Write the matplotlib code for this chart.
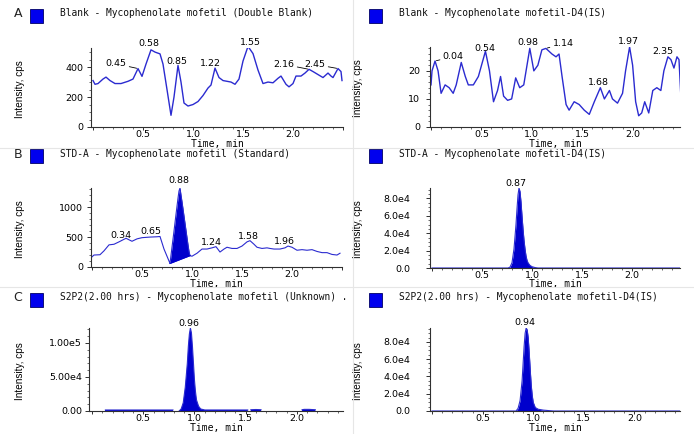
import matplotlib
matplotlib.use("Agg")
import matplotlib.pyplot as plt
import numpy as np
from matplotlib.ticker import MultipleLocator, FuncFormatter
from matplotlib.lines import Line2D
from matplotlib.patches import Rectangle

# ---------------- data ----------------
# A: blank, analyte channel
a1_t = [0.00, 0.02, 0.05, 0.10, 0.13, 0.17, 0.22, 0.28, 0.35, 0.40, 0.45, 0.49, 0.53, 0.58,
        0.62, 0.67, 0.70, 0.74, 0.78, 0.81, 0.85, 0.88, 0.91, 0.95, 1.00, 1.05, 1.10, 1.15,
        1.18, 1.22, 1.26, 1.30, 1.38, 1.42, 1.46, 1.50, 1.55, 1.60, 1.65, 1.70, 1.75, 1.80,
        1.85, 1.88, 1.93, 1.96, 2.00, 2.03, 2.08, 2.12, 2.16, 2.20, 2.25, 2.30, 2.35, 2.38,
        2.40, 2.45, 2.48, 2.49]
a1_y = [310, 285, 290, 320, 333, 310, 290, 290, 305, 320, 390, 338, 420, 515,
        500, 488, 420, 250, 78, 200, 411, 300, 160, 140, 150, 170, 210, 260,
        280, 393, 330, 310, 300, 285, 320, 440, 538, 490, 380, 290, 300, 295,
        325, 340, 285, 268, 290, 340, 340, 360, 385, 370, 350, 330, 360, 340,
        330, 390, 370, 310]

# A: blank, internal standard channel
a2_t = [0.00, 0.01, 0.04, 0.07, 0.10, 0.14, 0.18, 0.22, 0.25, 0.30, 0.34, 0.37, 0.42, 0.47,
        0.54, 0.58, 0.62, 0.66, 0.69, 0.72, 0.76, 0.80, 0.84, 0.88, 0.92, 0.98, 1.02, 1.06,
        1.10, 1.14, 1.20, 1.24, 1.27, 1.30, 1.34, 1.37, 1.42, 1.47, 1.52, 1.57, 1.62, 1.68,
        1.72, 1.77, 1.80, 1.85, 1.90, 1.93, 1.97, 2.00, 2.03, 2.06, 2.09, 2.12, 2.16, 2.20,
        2.24, 2.28, 2.31, 2.35, 2.38, 2.41, 2.44, 2.46, 2.48]
a2_y = [15, 20, 23.5, 20, 12, 15, 14, 12, 15, 23, 18, 15, 15, 18,
        27, 20, 9, 13, 18, 11, 9.5, 10, 17.5, 14, 15, 28, 20, 22,
        27.5, 28, 26, 25, 26, 18, 8, 6, 9, 8, 6, 4.5, 9, 14,
        10, 13, 10, 8.5, 12, 20, 28.5, 22, 9, 4, 5, 9, 5, 13,
        14, 13, 20, 25, 24, 21, 25, 24, 10]

# B: standard, analyte channel
b1_t = [0.00, 0.02, 0.08, 0.12, 0.17, 0.22, 0.27, 0.34, 0.40, 0.45, 0.50, 0.58, 0.65, 0.68,
        0.72, 0.78, 0.80, 0.82, 0.84, 0.86, 0.87, 0.88, 0.89, 0.90, 0.91, 0.92, 0.93, 0.94,
        0.95, 0.96, 0.97, 0.98, 1.00, 1.05, 1.10, 1.15, 1.20, 1.24, 1.28, 1.32, 1.35, 1.40,
        1.45, 1.50, 1.55, 1.58, 1.62, 1.65, 1.70, 1.75, 1.78, 1.82, 1.88, 1.93, 1.96, 2.00,
        2.05, 2.10, 2.15, 2.20, 2.25, 2.30, 2.35, 2.40, 2.45, 2.48]
b1_y = [170, 200, 205, 270, 370, 380, 420, 480, 430, 470, 490, 500, 505, 510,
        300, 60, 330, 600, 880, 1150, 1270, 1320, 1200, 1090, 970, 850, 730, 610,
        490, 370, 260, 190, 180, 230, 300, 300, 320, 340, 250, 300, 330, 310,
        310, 350, 420, 440, 380, 330, 310, 320, 310, 300, 300, 320, 350, 330,
        280, 290, 280, 290, 260, 240, 240, 210, 200, 230]
b1_peak = (0.78, 0.98)   # integration window of the filled peak

# B: standard, internal standard channel
b2_t = [0.00, 0.76, 0.78, 0.80, 0.82, 0.84, 0.85, 0.86, 0.87, 0.88, 0.89, 0.90, 0.91, 0.92,
        0.93, 0.94, 0.95, 0.96, 0.98, 1.00, 1.03, 1.06, 2.48]
b2_y = [0, 0, 1000, 6000, 22000, 50000, 68000, 84000, 92000, 88000, 76000, 60000, 45000, 32000,
        22000, 14000, 9000, 6000, 3000, 1500, 500, 0, 0]

# C: sample, analyte channel (nan = no signal drawn)
c1_t = [0.13, 0.40, 0.79, 0.80, 0.85, 0.87, 0.89, 0.91, 0.93, 0.94, 0.95, 0.96, 0.97, 0.98,
        0.99, 1.00, 1.01, 1.02, 1.04, 1.06, 1.10, 1.14, 1.30, 1.52, 1.53, 1.55, 1.60, 1.65,
        1.66, 2.05, 2.07, 2.12, 2.18, 2.19]
c1_y = [1500, 1500, 1500, np.nan, 0, 3000, 12000, 35000, 70000, 95000, 113000, 122000, 115000, 95000,
        70000, 45000, 28000, 16000, 7000, 3000, 1500, 1500, 1500, 1500, np.nan, 1800, 2200, 1800,
        np.nan, 1800, 2400, 2400, 1800, np.nan]

# C: sample, internal standard channel
c2_t = [0.00, 0.83, 0.85, 0.87, 0.89, 0.90, 0.91, 0.92, 0.93, 0.94, 0.95, 0.96, 0.97, 0.98,
        0.99, 1.00, 1.02, 1.05, 1.10, 1.15, 1.20, 2.48]
c2_y = [0, 0, 3000, 12000, 35000, 55000, 75000, 90000, 96000, 94000, 85000, 68000, 48000, 30000,
        18000, 10000, 4000, 2000, 1000, 500, 0, 0]

titles = ["Blank - Mycophenolate mofetil (Double Blank)",
          "Blank - Mycophenolate mofetil-D4(IS)",
          "STD-A - Mycophenolate mofetil (Standard)",
          "STD-A - Mycophenolate mofetil-D4(IS)",
          "S2P2(2.00 hrs) - Mycophenolate mofetil (Unknown) .",
          "S2P2(2.00 hrs) - Mycophenolate mofetil-D4(IS)"]
row_letters = ["A", "B", "C"]

# peak labels: (text, peak time, label x, label y, leader line?)
labels_a1 = [("0.45", 0.45, 0.23, 422, True), ("0.58", 0.58, 0.56, 555, False),
             ("0.85", 0.85, 0.84, 440, False), ("1.22", 1.22, 1.17, 427, False),
             ("1.55", 1.55, 1.57, 567, False), ("2.16", 2.16, 1.91, 418, True),
             ("2.45", 2.45, 2.22, 418, True)]
labels_a2 = [("0.04", 0.04, 0.22, 25.1, True), ("0.54", 0.54, 0.53, 28.1, False),
             ("0.98", 0.98, 0.96, 30.0, False), ("1.14", 1.14, 1.31, 29.7, True),
             ("1.68", 1.68, 1.66, 15.8, False), ("1.97", 1.97, 1.96, 30.5, False),
             ("2.35", 2.35, 2.30, 27.0, False)]
labels_b1 = [("0.34", 0.34, 0.29, 523, False), ("0.65", 0.65, 0.59, 597, False),
             ("0.88", 0.88, 0.87, 1437, False), ("1.24", 1.24, 1.19, 415, False),
             ("1.58", 1.58, 1.56, 511, False), ("1.96", 1.96, 1.92, 426, False)]
labels_b2 = [("0.87", 0.87, 0.84, 97100, False)]
labels_c1 = [("0.96", 0.96, 0.95, 128300, False)]
labels_c2 = [("0.94", 0.94, 0.92, 102000, False)]

# ---------------- style ----------------
W, H = 694, 434
LINE = "#2b2bd0"
FILL = "#0000cc"
SPINE = "#303030"
TICKFS = 6.8
MONO = ["DejaVu Sans Mono"]
YLAB_FONT = ["Liberation Sans", "DejaVu Sans"]

fig = plt.figure(figsize=(W / 100, H / 100), dpi=100)
fig.patch.set_facecolor("white")


def px_axes(x0, y0, x1, y1):
    return fig.add_axes([x0 / W, 1 - y1 / H, (x1 - x0) / W, (y1 - y0) / H])


def sci_fmt(dec):
    def f(v, pos):
        if abs(v) < 1e-9:
            return f"{0:.{dec}f}"
        e = int(np.floor(np.log10(abs(v))))
        return f"{v / 10 ** e:.{dec}f}e{e}"
    return FuncFormatter(f)


def style_axes(ax, ymajor, yminor, yfmt, ytop, xlim=(-0.02, 2.48), ypad=2.5):
    for s in ["top", "right"]:
        ax.spines[s].set_visible(False)
    for s in ["left", "bottom"]:
        ax.spines[s].set_color(SPINE)
        ax.spines[s].set_linewidth(0.8)
    ax.set_xlim(*xlim)
    ax.set_ylim(0, ytop)
    ax.xaxis.set_major_locator(MultipleLocator(0.5))
    ax.xaxis.set_minor_locator(MultipleLocator(0.1))
    ax.xaxis.set_major_formatter(FuncFormatter(lambda v, p: f"{v:.1f}" if 0.01 < v < 2.4 else ""))
    ax.yaxis.set_major_locator(MultipleLocator(ymajor))
    ax.yaxis.set_minor_locator(MultipleLocator(yminor))
    ax.yaxis.set_major_formatter(yfmt)
    ax.tick_params(axis="x", which="major", length=2.2, width=0.7, color=SPINE,
                   labelsize=TICKFS, pad=0.2)
    ax.tick_params(axis="y", which="major", length=3, width=0.7, color=SPINE,
                   labelsize=TICKFS, pad=ypad)
    ax.tick_params(which="minor", length=1.6, width=0.5, color=SPINE)
    ax.set_xlabel("Time, min", fontsize=7, family=MONO, labelpad=0)
    ax.xaxis.label.set_va("center")
    ax.set_ylabel("Intensity, cps", fontsize=7.2, family=YLAB_FONT)


def add_labels(ax, t, y, labels):
    for txt, tp, lx, ly, leader in labels:
        py = np.interp(tp, t, np.nan_to_num(y))
        if leader:
            ax.annotate(txt, xy=(tp, py), xytext=(lx, ly), fontsize=TICKFS,
                        ha="center", va="center", annotation_clip=False,
                        arrowprops=dict(arrowstyle="-", lw=0.6, color="black",
                                        shrinkA=0, shrinkB=1))
        else:
            ax.text(lx, ly, txt, fontsize=TICKFS, ha="center", va="center", clip_on=False)


# axes rectangles in pixels (left, top, right, bottom)
boxes = {"a1": (91, 48, 343, 127), "a2": (430, 47, 680, 127),
         "b1": (91, 188, 342, 267), "b2": (430, 188, 680, 268),
         "c1": (89, 328, 343, 411), "c2": (430, 328, 680, 411)}
ax_a1 = px_axes(*boxes["a1"])
ax_a2 = px_axes(*boxes["a2"])
ax_b1 = px_axes(*boxes["b1"])
ax_b2 = px_axes(*boxes["b2"])
ax_c1 = px_axes(*boxes["c1"])
ax_c2 = px_axes(*boxes["c2"])

# A
ax_a1.plot(a1_t, a1_y, color=LINE, lw=1.0)
style_axes(ax_a1, 200, 50, FuncFormatter(lambda v, p: f"{v:.0f}"), max(a1_y) * 0.98, (-0.02, 2.5))
add_labels(ax_a1, a1_t, a1_y, labels_a1)

ax_a2.plot(a2_t, a2_y, color=LINE, lw=1.0)
style_axes(ax_a2, 10, 2, FuncFormatter(lambda v, p: f"{v:.0f}"), max(a2_y), (-0.01, 2.47), ypad=4)
add_labels(ax_a2, a2_t, a2_y, labels_a2)

# B
ax_b1.plot(b1_t, b1_y, color=LINE, lw=0.8)
bt = np.array(b1_t)
by = np.array(b1_y, dtype=float)
m = (bt >= b1_peak[0]) & (bt <= b1_peak[1])
base = np.interp(bt[m], list(b1_peak), [np.interp(b1_peak[0], bt, by), np.interp(b1_peak[1], bt, by)])
ax_b1.fill_between(bt[m], base, by[m], color=FILL, lw=0)
ax_b1.plot(list(b1_peak), [base[0], base[-1]], color=FILL, lw=0.8)
style_axes(ax_b1, 500, 100, FuncFormatter(lambda v, p: f"{v:.0f}"), max(b1_y), (-0.01, 2.5))
add_labels(ax_b1, b1_t, b1_y, labels_b1)

ax_b2.fill_between(b2_t, 0, b2_y, color=FILL, lw=0)
ax_b2.plot(b2_t, b2_y, color=LINE, lw=0.8)
style_axes(ax_b2, 20000, 5000, sci_fmt(1), max(b2_y), ypad=11)
add_labels(ax_b2, b2_t, b2_y, labels_b2)

# C
ax_c1.fill_between(c1_t, 0, c1_y, color=FILL, lw=0)
ax_c1.plot(c1_t, c1_y, color=LINE, lw=0.8)
style_axes(ax_c1, 50000, 10000, sci_fmt(2), np.nanmax(c1_y), (-0.03, 2.45), ypad=2)
add_labels(ax_c1, c1_t, c1_y, labels_c1)

ax_c2.fill_between(c2_t, 0, c2_y, color=FILL, lw=0)
ax_c2.plot(c2_t, c2_y, color=LINE, lw=0.8)
style_axes(ax_c2, 20000, 5000, sci_fmt(1), max(c2_y), (-0.02, 2.45), ypad=11)
add_labels(ax_c2, c2_t, c2_y, labels_c2)

# axis label positions (pixel offsets from each axes)
for ax, key in [(ax_a1, "a1"), (ax_a2, "a2"), (ax_b1, "b1"),
                (ax_b2, "b2"), (ax_c1, "c1"), (ax_c2, "c2")]:
    x0, y0, x1, y1 = boxes[key]
    h = y1 - y0
    w = x1 - x0
    ylab_x = 25 if x0 < 300 else 363
    ax.yaxis.set_label_coords((ylab_x - x0) / w, 0.48)
    ax.xaxis.set_label_coords(0.5, -16.5 / h)

# faint panel separators
for yy in [148, 287]:
    fig.add_artist(Line2D([0, 1], [1 - yy / H] * 2, color="#e6e6e6", lw=0.8))
fig.add_artist(Line2D([353 / W] * 2, [0, 1], color="#e6e6e6", lw=0.8))

# row letters, legend squares and titles
rows_y = [15.5, 156, 299.5]
for i, (letter, yc) in enumerate(zip(row_letters, rows_y)):
    fig.text(18 / W, 1 - (yc - 2) / H, letter, fontsize=9, ha="center", va="center", color="#222222")
    for j, (sq_x, tx) in enumerate([(30, 60), (369, 399)]):
        fig.add_artist(Rectangle((sq_x / W, 1 - (yc + 7) / H), 13 / W, 14 / H,
                                 facecolor="#0000ee", edgecolor="#000066", lw=0.6))
        fig.text(tx / W, 1 - (yc - 2) / H, titles[2 * i + j], fontsize=6.9,
                 family=MONO, ha="left", va="center", color="#111111")

fig.savefig("out.png", dpi=100)
